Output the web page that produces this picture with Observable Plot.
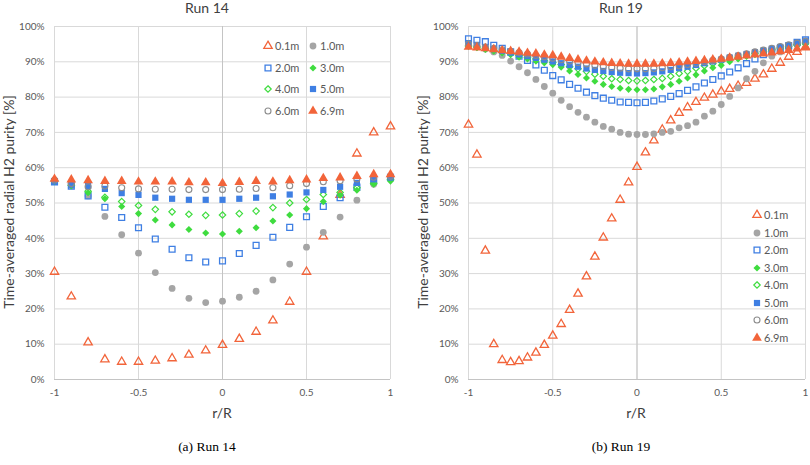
<!DOCTYPE html>
<html><head><meta charset="utf-8">
<script src="https://cdn.jsdelivr.net/npm/d3@7"></script>
<script src="https://cdn.jsdelivr.net/npm/@observablehq/plot@0.6"></script>
<style>
body{margin:0;background:#fff;}
#root{position:relative;width:810px;height:465px;overflow:hidden;font-family:Lato,"Open Sans",sans-serif;background:#fff;}
.abs{position:absolute;white-space:nowrap;}
.title{font-size:14px;line-height:18px;color:#404040;transform:translateX(-50%);}
.ylab{font-size:14px;line-height:16px;color:#404040;transform:translate(-50%,-50%) rotate(-90deg);}
.xlab{font-size:14px;line-height:18px;color:#404040;transform:translate(-50%,-50%);}
.cap{font-family:"Liberation Serif","DejaVu Serif",serif;font-size:13.5px;line-height:14px;color:#000;transform:translate(-50%,-50%);}
.leg{font-size:11px;line-height:12px;color:#595959;display:flex;align-items:center;transform:translateY(-50%);}
.leg svg{margin-right:2px;overflow:visible;}
.panel svg{overflow:visible;}
</style></head><body><div id="root"></div><script>
// ---- data ----
const seriesLabels = ["0.1m","1.0m","2.0m","3.0m","4.0m","5.0m","6.0m","6.9m"];
const xTicks = [-1, -0.5, 0, 0.5, 1];
const yTicks = [0,10,20,30,40,50,60,70,80,90,100];

const r14x = [-1,-0.9,-0.8,-0.7,-0.6,-0.5,-0.4,-0.3,-0.2,-0.1,0,0.1,0.2,0.3,0.4,0.5,0.6,0.7,0.8,0.9,1];
const r14_01 = [30.5,23.5,10.5,5.7,5.0,5.0,5.3,6.0,7.0,8.2,9.8,11.5,13.5,16.7,22.0,30.5,40.5,52.3,64.0,70.0,71.7];
const r14_10 = [56.3,55.0,52.0,46.2,41.0,35.8,30.3,25.8,23.0,21.8,22.2,23.3,25.0,28.2,32.7,37.5,41.7,46.0,50.8,55.3,57.0];
const r14_20 = [56.0,54.8,52.0,48.8,45.9,43.0,39.8,36.9,34.5,33.3,33.6,35.7,38.0,40.3,43.1,46.1,49.0,51.5,54.5,56.3,57.3];
const r14_30 = [56.5,55.0,52.9,51.2,49.0,47.0,45.2,43.8,42.5,41.5,41.2,42.0,43.0,44.9,46.6,48.4,50.4,52.2,53.6,55.3,56.2];
const r14_40 = [56.3,55.0,53.3,51.6,50.4,49.3,48.2,47.5,46.8,46.5,46.6,47.0,47.7,48.7,50.0,51.0,52.4,53.0,54.3,55.6,56.6];
const r14_50 = [56.2,55.2,54.8,54.0,52.8,52.3,51.5,51.2,50.9,50.9,50.9,51.2,51.5,51.9,52.4,53.0,53.7,54.6,55.7,56.7,57.2];
const r14_60 = [56.5,55.5,54.6,54.8,54.3,54.0,53.9,53.9,53.8,53.8,53.8,53.9,54.1,54.3,54.9,55.5,56.0,56.3,56.8,57.3,57.6];
const r14_69 = [56.8,56.6,56.4,56.2,56.2,56.0,56.0,56.0,55.8,55.8,55.6,55.9,56.2,56.0,56.4,56.6,57.0,57.2,57.6,58.1,58.1];

const r19x = [-1,-0.95,-0.9,-0.85,-0.8,-0.75,-0.7,-0.65,-0.6,-0.55,-0.5,-0.45,-0.4,-0.35,-0.3,-0.25,-0.2,-0.15,-0.1,-0.05,0,0.05,0.1,0.15,0.2,0.25,0.3,0.35,0.4,0.45,0.5,0.55,0.6,0.65,0.7,0.75,0.8,0.85,0.9,0.95,1];
const r19_01 = [72.2,63.7,36.5,10.0,5.5,4.9,5.2,6.2,7.6,9.8,12.4,15.7,19.7,24.3,29.2,34.8,40.2,45.6,50.9,55.8,60.2,64.3,67.7,70.8,73.4,75.5,77.1,78.6,79.8,80.7,81.6,82.3,83.2,84.0,85.2,86.4,88.0,89.7,91.4,92.8,94.2];
const r19_10 = [95.0,94.3,93.6,92.8,91.8,90.2,88.6,86.9,85.0,83.0,81.1,79.1,77.3,75.7,74.3,72.9,71.7,70.9,70.0,69.5,69.4,69.4,69.6,70.0,70.3,71.3,71.9,72.9,74.6,76.0,77.9,80.2,82.6,85.2,87.3,89.7,91.6,92.8,93.8,94.8,95.5];
const r19_20 = [96.5,96.1,95.7,94.7,93.8,92.8,91.6,90.4,89.1,87.6,86.1,84.9,83.6,82.5,81.4,80.4,79.7,79.1,78.6,78.5,78.4,78.5,78.9,79.5,80.2,81.0,81.9,82.9,84.0,85.0,86.0,87.1,88.3,89.5,90.8,92.0,93.0,93.8,94.5,95.5,96.2];
const r19_30 = [94.5,94.0,93.5,93.0,92.5,92.0,91.3,90.8,90.2,89.7,89.2,88.5,87.4,86.4,85.4,84.5,83.6,83.0,82.5,82.2,82.1,82.1,82.3,82.9,83.6,84.5,85.4,86.3,87.4,88.3,89.0,90.0,90.8,91.5,92.0,92.6,93.1,93.6,94.1,94.6,95.0];
const r19_40 = [94.5,94.2,93.8,93.3,92.8,92.3,91.8,91.3,90.8,90.3,89.8,89.2,88.6,88.0,87.3,86.5,85.9,85.2,85.0,84.7,84.6,84.7,85.0,85.3,85.9,86.7,87.3,88.2,88.9,89.5,90.1,90.7,91.3,91.9,92.4,92.9,93.4,93.9,94.4,94.9,95.3];
const r19_50 = [95.3,94.8,94.2,93.6,93.1,92.6,92.1,91.6,91.1,90.6,90.1,89.6,89.1,88.6,88.1,87.7,87.4,87.1,86.9,86.8,86.7,86.8,87.0,87.3,87.7,88.2,88.6,89.1,89.6,90.1,90.6,91.2,91.7,92.2,92.7,93.2,93.7,94.2,94.7,95.3,95.8];
const r19_60 = [95.0,94.6,94.2,93.8,93.4,93.0,92.6,92.2,91.8,91.4,91.0,90.6,90.2,89.8,89.4,89.0,88.7,88.4,88.2,88.0,88.0,88.0,88.1,88.3,88.6,88.9,89.2,89.6,90.0,90.4,90.8,91.3,91.8,92.3,92.8,93.3,93.8,94.3,94.8,95.3,95.8];
const r19_69 = [94.2,94.0,93.8,93.5,93.2,93.0,92.8,92.5,92.3,92.0,91.8,91.4,91.0,90.6,90.3,90.0,89.8,89.6,89.5,89.4,89.4,89.4,89.4,89.5,89.6,89.8,90.0,90.2,90.4,90.6,90.8,91.1,91.4,91.7,92.0,92.3,92.6,92.9,93.3,93.7,94.0];

// ---- styles ----
const ORANGE = "#f2643a", GRAY = "#a5a5a5", BLUE = "#3f7fe3", GREEN = "#3fdc3f", OGRAY = "#8c8c8c";
const styles = [
  {symbol:"triangle", r:3.1, fill:"none", stroke:ORANGE, sw:1.3},
  {symbol:"circle", r:3.4, fill:GRAY, stroke:"none", sw:0},
  {symbol:"square", r:3.3, fill:"none", stroke:BLUE, sw:1.3},
  {symbol:"diamond2", r:3.2, fill:GREEN, stroke:"none", sw:0},
  {symbol:"diamond2", r:2.9, fill:"none", stroke:GREEN, sw:1.2},
  {symbol:"square", r:3.5, fill:BLUE, stroke:"none", sw:0},
  {symbol:"circle", r:3.0, fill:"none", stroke:OGRAY, sw:1.1},
  {symbol:"triangle", r:3.6, fill:ORANGE, stroke:"none", sw:0}
];

function buildTable(xs, arrays) {
  const t = [];
  arrays.forEach((arr, i) => arr.forEach((v, j) => t.push({x: xs[j], y: v, s: seriesLabels[i]})));
  return t;
}

function panel(table, marginLeft, marginRight) {
  return Plot.plot({
    width: 405, height: 425,
    marginLeft, marginRight, marginTop: 26, marginBottom: 46,
    x: {domain: [-1, 1]},
    y: {domain: [0, 100]},
    style: {fontFamily: "Lato, 'Open Sans', sans-serif", fontSize: "10px", color: "#595959", background: "transparent", overflow: "visible"},
    marks: [
      Plot.gridY(yTicks, {stroke: "#d9d9d9", strokeOpacity: 1, strokeWidth: 1}),
      Plot.gridX(xTicks, {stroke: "#d9d9d9", strokeOpacity: 1, strokeWidth: 1}),
      Plot.ruleX([0], {stroke: "#c4c4c4"}),
      Plot.ruleY([0], {stroke: "#c4c4c4"}),
      Plot.axisY(yTicks, {tickSize: 0, tickPadding: 10, tickFormat: d => d + "%", label: null, fill: "#595959"}),
      Plot.axisX(xTicks, {tickSize: 0, tickPadding: 9, tickFormat: d => String(d), label: null, fill: "#595959"}),
      ...seriesLabels.map((lab, i) => Plot.dot(table.filter(d => d.s === lab), {
        x: "x", y: "y", symbol: styles[i].symbol, r: styles[i].r,
        fill: styles[i].fill, stroke: styles[i].stroke, strokeWidth: styles[i].sw
      }))
    ]
  });
}

const root = document.getElementById("root");
function add(cls, text, left, top) {
  const d = document.createElement("div");
  d.className = "abs " + cls; d.textContent = text;
  d.style.left = left + "px"; d.style.top = top + "px";
  root.appendChild(d); return d;
}
function legendItem(i, left, top) {
  const d = document.createElement("div");
  d.className = "abs leg"; d.style.left = left + "px"; d.style.top = top + "px";
  const st = styles[i];
  const sym = {triangle: d3.symbolTriangle, circle: d3.symbolCircle, square: d3.symbolSquare, diamond2: d3.symbolDiamond2}[st.symbol];
  const svg = d3.create("svg").attr("width", 10).attr("height", 10).attr("viewBox", "-5 -5 10 10");
  svg.append("path").attr("d", d3.symbol(sym, Math.PI * st.r * st.r)())
    .attr("fill", st.fill).attr("stroke", st.stroke).attr("stroke-width", st.sw);
  d.appendChild(svg.node());
  const s = document.createElement("span"); s.textContent = seriesLabels[i]; d.appendChild(s);
  root.appendChild(d);
}

// Left panel: Run 14
const p1 = document.createElement("div"); p1.className = "abs panel"; p1.style.left = "0px"; p1.style.top = "0px";
p1.appendChild(panel(buildTable(r14x, [r14_01, r14_10, r14_20, r14_30, r14_40, r14_50, r14_60, r14_69]), 54, 15));
root.appendChild(p1);
// Right panel: Run 19
const p2 = document.createElement("div"); p2.className = "abs panel"; p2.style.left = "405px"; p2.style.top = "0px";
p2.appendChild(panel(buildTable(r19x, [r19_01, r19_10, r19_20, r19_30, r19_40, r19_50, r19_60, r19_69]), 63, 5));
root.appendChild(p2);

add("title", "Run 14", 207, -1);
add("title", "Run 19", 621, -1);
add("ylab", "Time-averaged radial H2 purity [%]", 9, 202);
add("ylab", "Time-averaged radial H2 purity [%]", 423, 202);
add("xlab", "r/R", 222, 413);
add("xlab", "r/R", 636, 413);
add("cap", "(a) Run 14", 207, 447);
add("cap", "(b) Run 19", 621, 447);

// legends
const colX = [263, 308], rowY = [46, 67.7, 89.3, 111];
for (let i = 0; i < 8; i++) legendItem(i, colX[i % 2], rowY[Math.floor(i / 2)]);
for (let i = 0; i < 8; i++) legendItem(i, 752, 215 + 17.5 * i);
</script></body></html>
